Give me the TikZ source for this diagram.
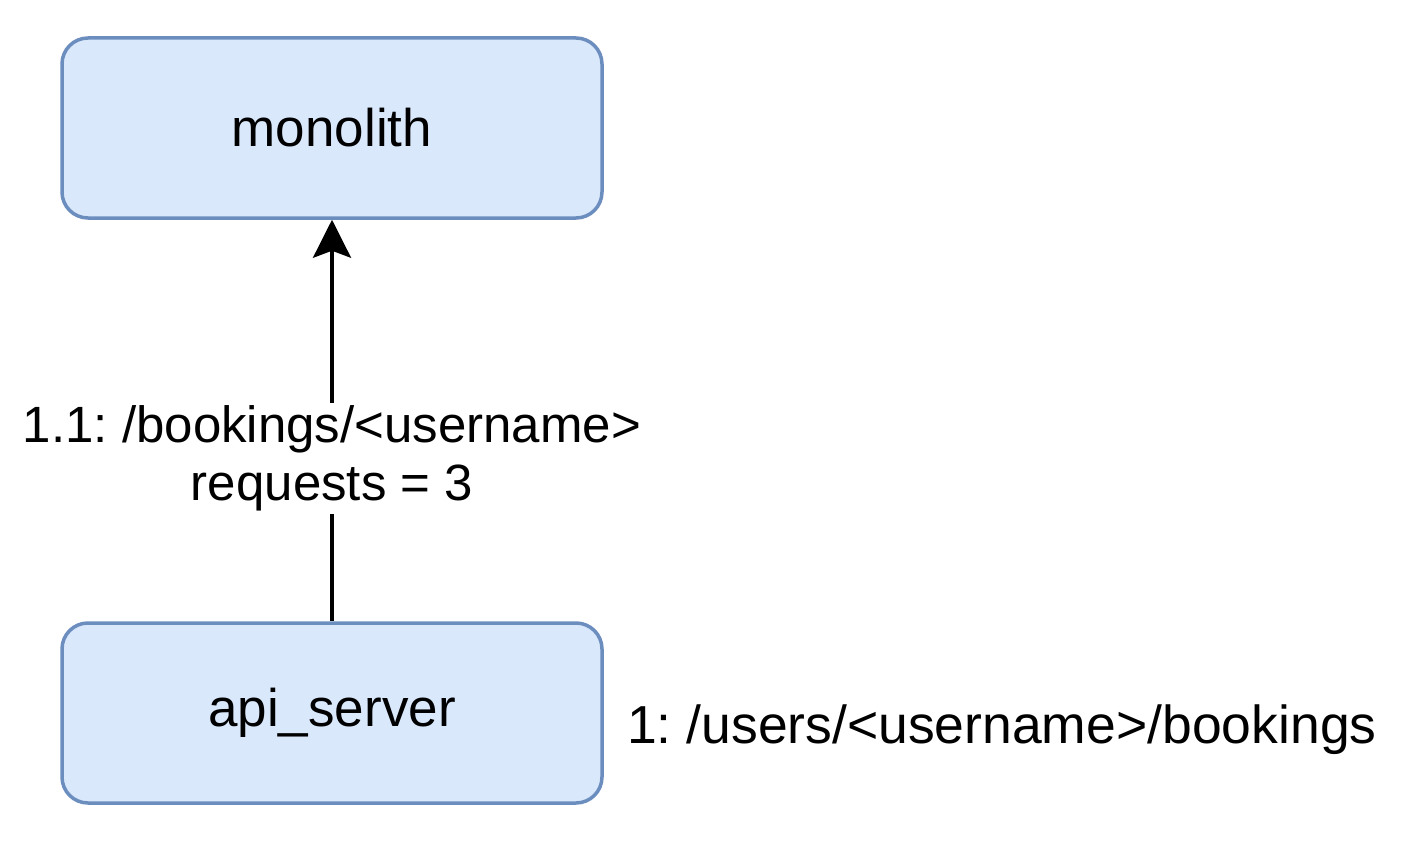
\documentclass[tikz,border=0pt]{standalone}
\usepackage{fontspec}
\setmainfont{Liberation Sans}
\usetikzlibrary{arrows.meta}
\definecolor{boxfill}{HTML}{DAE8FC}
\definecolor{boxdraw}{HTML}{6C8EBF}
\frenchspacing
\begin{document}
\begin{tikzpicture}[x=1pt,y=-1pt,
  svc/.style={draw=boxdraw, fill=boxfill, line width=3.5pt, rounded corners=26pt,
    minimum width=540pt, minimum height=180pt, inner sep=0pt,
    font=\fontsize{53}{58}\selectfont},
  lbl/.style={font=\fontsize{51}{58}\selectfont, align=center, fill=white, inner sep=3pt},
  conn/.style={line width=3.5pt, -{Stealth[length=38pt, width=38pt, inset=7pt]}}]
\useasboundingbox (0,0) rectangle (1416,848);
\node[svc] (mono) at (332,128) {\raisebox{-2pt}{monolith}};
\node[svc] (api) at (332,713) {\raisebox{-2pt}{api\_server}};
\draw[conn] (api) -- node[lbl, pos=0.405] (l1) {1.1: /bookings/<username>\\requests = 3} (mono);
\node[font=\fontsize{53.5}{58}\selectfont, anchor=west, inner sep=0pt] (l2) at (627,730) {1: /users/<username>/bookings};
\end{tikzpicture}
\end{document}
